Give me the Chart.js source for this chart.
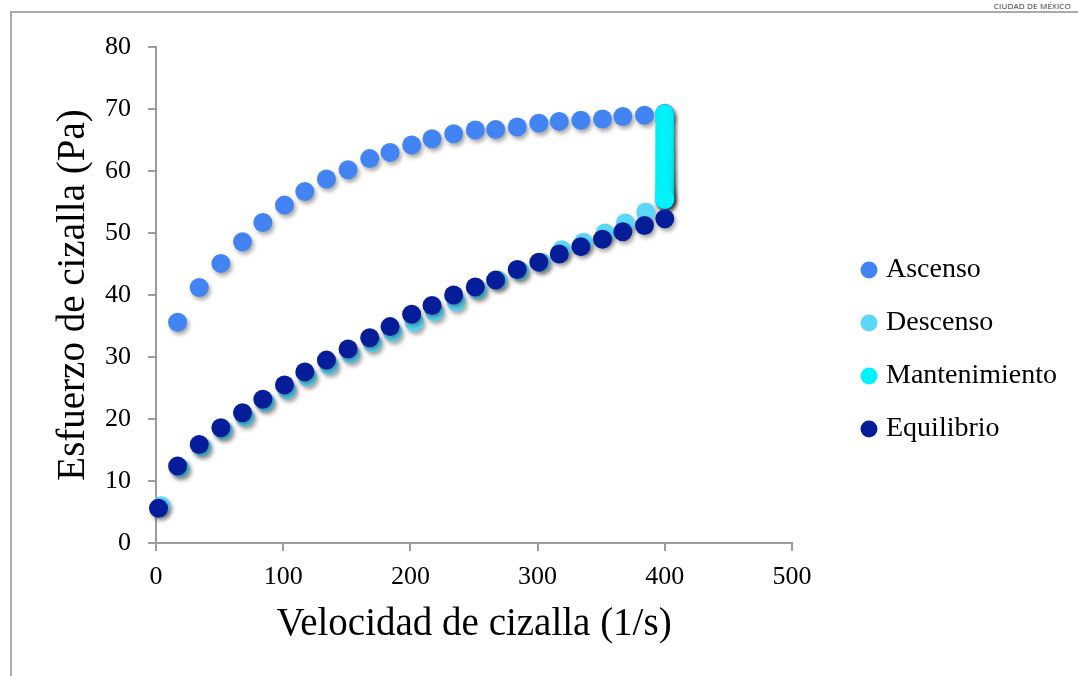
<!DOCTYPE html>
<html lang="es">
<head>
<meta charset="utf-8">
<title>Esfuerzo de cizalla</title>
<script src="https://cdn.jsdelivr.net/npm/chart.js@4.4.0/dist/chart.umd.min.js"></script>
<style>
    body { margin: 0; background: #fff; }
    #wrap { position: relative; width: 1078px; height: 676px; overflow: hidden; }
    #marco {
        position: absolute; left: 10px; top: 11px; right: 0; bottom: 0;
        border-top: 2px solid #aaaaaa; border-left: 2px solid #aaaaaa;
    }
    #sello {
        position: absolute; right: 7px; top: 0; font: 8px 'Open Sans', sans-serif;
        color: #333; letter-spacing: 0.2px;
    }
    canvas { position: absolute; left: 0; top: 0; }
</style>
</head>
<body>
<div id="wrap">
    <div id="marco"></div>
    <div id="sello">CIUDAD DE MÉXICO</div>
    <canvas id="grafica" width="1078" height="676"></canvas>
</div>
<script>
// Datos (velocidad en 1/s, esfuerzo en Pa)
const ascensoX = [17, 34, 51, 68, 84, 101, 117, 134, 151, 168, 184, 201, 217, 234, 251, 267, 284, 301, 317, 334, 351, 367, 384, 400];
const ascensoY = [35.6, 41.2, 45.1, 48.6, 51.7, 54.5, 56.7, 58.7, 60.2, 62.0, 63.0, 64.2, 65.2, 66.0, 66.6, 66.7, 67.1, 67.7, 68.0, 68.2, 68.4, 68.8, 69.0, 69.3];

const descensoX = [4, 19, 36, 53, 70, 86, 103, 119, 136, 153, 170, 186, 203, 219, 236, 253, 269, 286, 303, 319, 336, 353, 369, 385, 400];
const descensoY = [6.0, 12.1, 15.5, 18.2, 20.3, 22.7, 24.7, 26.8, 28.7, 30.5, 32.3, 34.0, 35.6, 37.3, 38.9, 40.8, 42.4, 43.9, 45.3, 47.3, 48.5, 50.0, 51.6, 53.4, 55.2];

const mantenimientoVelocidad = 400;
const mantenimientoY = [69.2, 68.5, 67.9, 67.1, 66.4, 65.8, 65.0, 64.3, 63.7, 63.0, 62.4, 61.8, 61.1, 60.5, 60.0, 59.4, 58.9, 58.3, 57.9, 57.4, 57.0, 56.6, 56.2, 55.9, 55.6, 55.4];

const equilibrioX = [2, 17, 34, 51, 68, 84, 101, 117, 134, 151, 168, 184, 201, 217, 234, 251, 267, 284, 301, 317, 334, 351, 367, 384, 400];
const equilibrioY = [5.6, 12.4, 15.9, 18.6, 21.0, 23.2, 25.5, 27.6, 29.5, 31.3, 33.1, 34.9, 36.9, 38.3, 40.0, 41.3, 42.4, 44.1, 45.3, 46.6, 47.8, 49.0, 50.2, 51.2, 52.3];

const ejeXTicks = [0, 100, 200, 300, 400, 500];
const ejeYTicks = [0, 10, 20, 30, 40, 50, 60, 70, 80];

const ejeColor = '#9c9c9c';
const fuente = "'Liberation Serif', 'Times New Roman', serif";

const aPuntos = (xs, ys) => xs.map((x, i) => ({ x: x, y: ys[i] }));

// Serie con el estilo común de los puntos
function serie(label, data, color, orden) {
    return {
        label: label,
        data: data,
        backgroundColor: color,
        borderColor: color,
        borderWidth: 0,
        pointRadius: 9.5,
        pointHoverRadius: 9.5,
        pointStyle: 'circle',
        order: orden,
        clip: false
    };
}

// Sombra suave bajo los puntos
const sombra = {
    id: 'sombra',
    beforeDatasetsDraw(chart) {
        const ctx = chart.ctx;
        ctx.save();
        ctx.shadowColor = 'rgba(0, 0, 0, 0.35)';
        ctx.shadowBlur = 4;
        ctx.shadowOffsetX = 2;
        ctx.shadowOffsetY = 3;
    },
    afterDatasetsDraw(chart) {
        chart.ctx.restore();
    }
};

// Coloca la leyenda a la derecha, a la altura del original
const moverLeyenda = {
    id: 'moverLeyenda',
    afterLayout(chart) {
        const l = chart.legend;
        if (!l) return;
        const dy = 231 - l.top;
        l.left = 841;
        l.right = chart.width;
        l.width = l.right - l.left;
        l.top += dy;
        l.bottom += dy;
    }
};

const ctx = document.getElementById('grafica').getContext('2d');
const grafica = new Chart(ctx, {
    type: 'scatter',
    data: {
        datasets: [
            serie('Ascenso', aPuntos(ascensoX, ascensoY), '#4384f5', 4),
            serie('Descenso', aPuntos(descensoX, descensoY), '#5cd7f8', 3),
            serie('Mantenimiento', mantenimientoY.map(y => ({ x: mantenimientoVelocidad, y: y })), '#00f3f9', 2),
            serie('Equilibrio', aPuntos(equilibrioX, equilibrioY), '#061d9a', 1)
        ]
    },
    options: {
        responsive: false,
        animation: false,
        layout: {
            padding: { left: 50, top: 47, bottom: 20, right: 136 }
        },
        plugins: {
            tooltip: { enabled: false },
            legend: {
                position: 'right',
                align: 'start',
                maxWidth: 150,
                labels: {
                    usePointStyle: true,
                    pointStyle: 'circle',
                    boxWidth: 6,
                    boxHeight: 12,
                    padding: 25,
                    color: '#000',
                    font: { family: fuente, size: 28 },
                    sort: (a, b) => a.datasetIndex - b.datasetIndex
                }
            }
        },
        scales: {
            x: {
                type: 'linear',
                min: 0,
                max: 500,
                afterBuildTicks: s => { s.ticks = ejeXTicks.map(v => ({ value: v })); },
                afterFit: s => { s.height = 113; },
                border: { color: ejeColor, width: 2 },
                grid: { drawOnChartArea: false, drawTicks: true, tickLength: 8, color: ejeColor, lineWidth: 2 },
                ticks: { color: '#000', padding: 11, font: { family: fuente, size: 26 } },
                title: {
                    display: true,
                    text: 'Velocidad de cizalla (1/s)',
                    color: '#000',
                    font: { family: fuente, size: 39 },
                    padding: { top: 0, bottom: 8 }
                }
            },
            y: {
                type: 'linear',
                min: 0,
                max: 80,
                afterBuildTicks: s => { s.ticks = ejeYTicks.map(v => ({ value: v })); },
                afterFit: s => { s.width = 106; },
                border: { color: ejeColor, width: 2 },
                grid: { drawOnChartArea: false, drawTicks: true, tickLength: 8, color: ejeColor, lineWidth: 2 },
                ticks: { color: '#000', padding: 17, font: { family: fuente, size: 26 } },
                title: {
                    display: true,
                    text: 'Esfuerzo de cizalla (Pa)',
                    color: '#000',
                    font: { family: fuente, size: 39 },
                    padding: { top: 0, bottom: 0 }
                }
            }
        }
    },
    plugins: [sombra, moverLeyenda]
});
</script>
</body>
</html>
